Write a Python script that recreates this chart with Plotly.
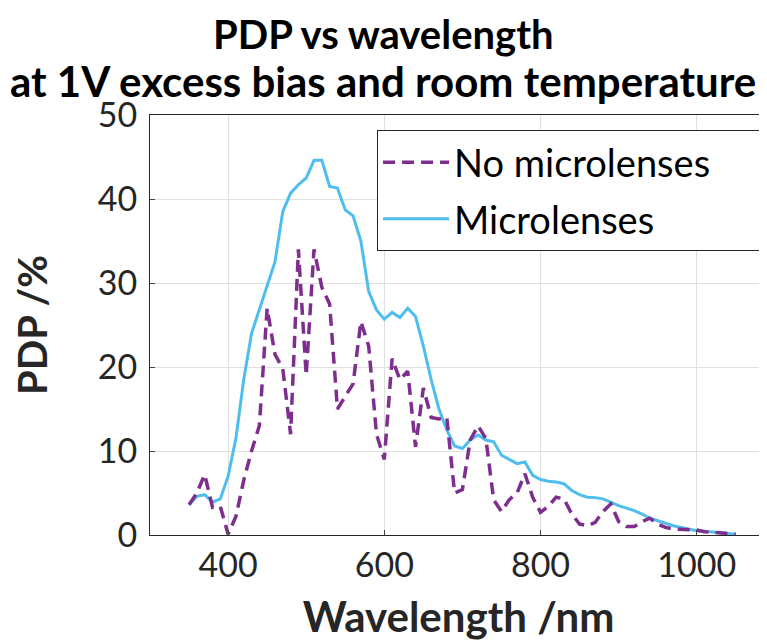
import plotly.graph_objects as go

wavelength = list(range(350, 1051, 10))

no_microlenses = [
    3.6, 5.0, 7.2, 3.3, 3.4, 0.1, 2.2, 6.5, 10.0, 13.0,
    27.0, 21.5, 19.8, 12.0, 34.0, 19.0, 34.0, 29.5, 27.5, 15.0,
    16.5, 18.0, 25.4, 22.5, 12.0, 9.0, 21.0, 18.5, 19.5, 10.5,
    17.5, 14.0, 13.8, 14.0, 5.0, 5.4, 11.3, 13.0, 11.5, 4.2,
    2.8, 4.2, 5.0, 7.3, 4.5, 2.7, 3.4, 4.5, 4.3, 2.5,
    1.3, 1.1, 1.5, 2.8, 3.7, 1.6, 1.0, 1.0, 1.6, 2.0,
    1.3, 0.9, 0.7, 0.7, 0.7, 0.6, 0.4, 0.3, 0.25, 0.15, 0.1,
]

microlenses = [
    3.6, 4.6, 4.8, 3.9, 4.3, 7.0, 11.5, 18.5, 24.0, 26.8,
    29.8, 32.5, 38.5, 40.7, 41.7, 42.5, 44.6, 44.6, 41.5, 41.3,
    38.7, 38.0, 35.0, 29.0, 26.8, 25.7, 26.5, 25.9, 27.0, 26.0,
    22.5, 18.5, 15.0, 12.5, 10.6, 10.3, 11.3, 11.9, 11.3, 11.1,
    9.5, 9.0, 8.5, 8.7, 7.1, 6.6, 6.4, 6.3, 6.1, 5.3,
    4.8, 4.5, 4.45, 4.3, 3.9, 3.5, 3.2, 2.9, 2.5, 2.0,
    1.7, 1.4, 1.1, 0.9, 0.7, 0.5, 0.45, 0.35, 0.3, 0.2, 0.1,
]

x_ticks = [400, 600, 800, 1000]
y_ticks = [0, 10, 20, 30, 40, 50]

title_line1 = "PDP vs wavelength"
title_line2 = "at 1V excess bias and room temperature"

FONT = "Lato"
PAD = "\u00a0" * 5

fig = go.Figure()
fig.add_trace(go.Scatter(
    x=wavelength, y=microlenses, mode="lines", name="Microlenses" + PAD,
    line=dict(color="#4DBEEE", width=3), legendrank=2, legendgroup="b",
))
fig.add_trace(go.Scatter(
    x=wavelength, y=no_microlenses, mode="lines", name="No microlenses" + PAD,
    line=dict(color="#7E2F8E", width=3.5, dash="12px,7px"), legendrank=1, legendgroup="a",
))

fig.add_annotation(text="<b>" + title_line1 + "</b>", xref="paper", yref="paper",
                   x=0.378, y=1.193, xanchor="center", yanchor="middle", showarrow=False,
                   font=dict(family=FONT, size=40, color="black"))
fig.add_annotation(text="<b>" + title_line2 + "</b>", xref="paper", yref="paper",
                   x=0.378, y=1.082, xanchor="center", yanchor="middle", showarrow=False,
                   font=dict(family=FONT, size=42, color="black"))

fig.update_layout(
    width=767, height=644,
    margin=dict(l=142, r=8, t=107, b=117),
    paper_bgcolor="white", plot_bgcolor="white",
    font=dict(family=FONT, color="#262626"),
    legend=dict(
        x=0.368, y=0.964, xanchor="left", yanchor="top",
        bgcolor="white", bordercolor="#262626", borderwidth=1,
        font=dict(family=FONT, size=38, color="black"),
        tracegroupgap=4, traceorder="grouped", itemwidth=66,
    ),
    xaxis=dict(
        range=[300, 1090], tickvals=x_ticks, ticks="inside", ticklen=5,
        showline=True, linecolor="#262626", linewidth=1, mirror=True,
        showgrid=True, gridcolor="#e0e0e0", zeroline=False, automargin=False,
        tickfont=dict(family=FONT, size=34, color="#262626"),
        title=dict(text="<b>Wavelength /nm</b>", font=dict(family=FONT, size=42, color="#262626"), standoff=19),
    ),
    yaxis=dict(
        range=[0, 50], tickvals=y_ticks, ticks="inside", ticklen=5,
        showline=True, linecolor="#262626", linewidth=1, mirror=True,
        showgrid=True, gridcolor="#e0e0e0", zeroline=False, automargin=False,
        ticklabelstandoff=5,
        tickfont=dict(family=FONT, size=34, color="#262626"),
        title=dict(text="<b>PDP /%</b>", font=dict(family=FONT, size=40, color="#262626"), standoff=40),
    ),
)

fig.write_html("out.html")
